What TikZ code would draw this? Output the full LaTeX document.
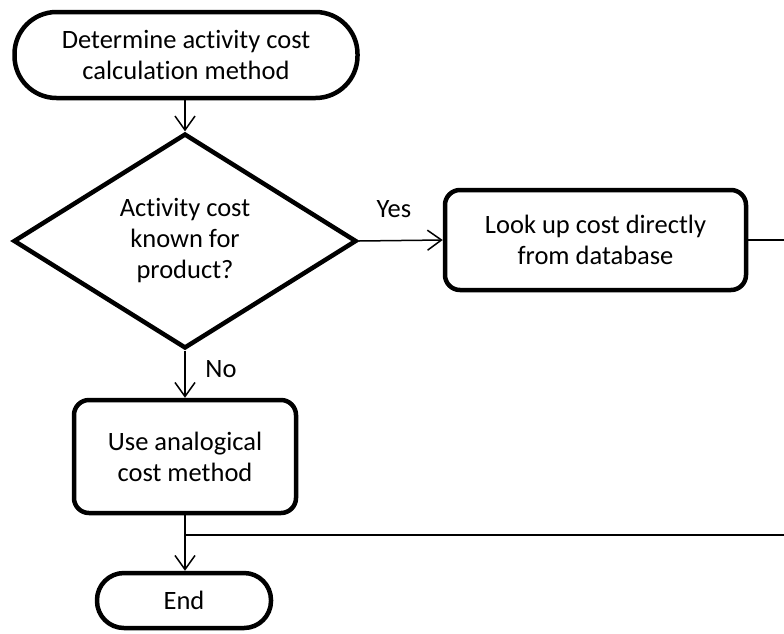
\documentclass[tikz,border=0pt]{standalone}
\usepackage{fontspec}
\setmainfont{Carlito}[Ligatures=NoCommon]
\usetikzlibrary{shapes.geometric,arrows.meta}
\begin{document}
\begin{tikzpicture}[x=1pt,y=-1pt,
  txt/.style={font=\fontsize{26.5}{31}\selectfont, align=center},
  shapebase/.style={txt, draw, line width=4.5pt, inner sep=0pt},
  terminal/.style={shapebase, rounded corners=#1},
  process/.style={shapebase, rounded corners=15pt},
  decision/.style={shapebase, diamond},
  conn/.style={line width=1.5pt},
  arr/.style={conn, -{Straight Barb[length=14pt,width=20pt]}},
  lbl/.style={txt, inner sep=0pt}
]
\clip (0,0) rectangle (784,633);

% flowchart shapes
\node[terminal=42pt, minimum width=343pt, minimum height=86pt] (start) at (186,55)
  {Determine activity cost\\calculation method};
\node[decision, minimum width=343pt, minimum height=194pt] (dec) at (185,241)
  {Activity cost\\known for\\product?};
\node[process, minimum width=301pt, minimum height=100pt] (look) at (595.5,240)
  {Look up cost directly\\from database};
\node[process, minimum width=222pt, minimum height=113pt] (analog) at (185,456.5)
  {Use analogical\\cost method};
\node[terminal=27pt, minimum width=174pt, minimum height=55pt] (endn) at (184,600.5)
  {End};

% branch labels
\node[lbl] (yes) at (394,209) {Yes};
\node[lbl] (no) at (221,369) {No};

% connectors
\coordinate (join) at (185,535);
\draw[arr] (start.south -| dec.north) -- (dec.north);
\draw[arr] (dec.east) -- (look.west);
\draw[arr] (dec.south) -- (analog.north);
\draw[arr] (analog.south) -- (analog.south |- endn.north);
\draw[conn] (look.east) -- ++(80,0) |- (join);
\end{tikzpicture}
\end{document}
